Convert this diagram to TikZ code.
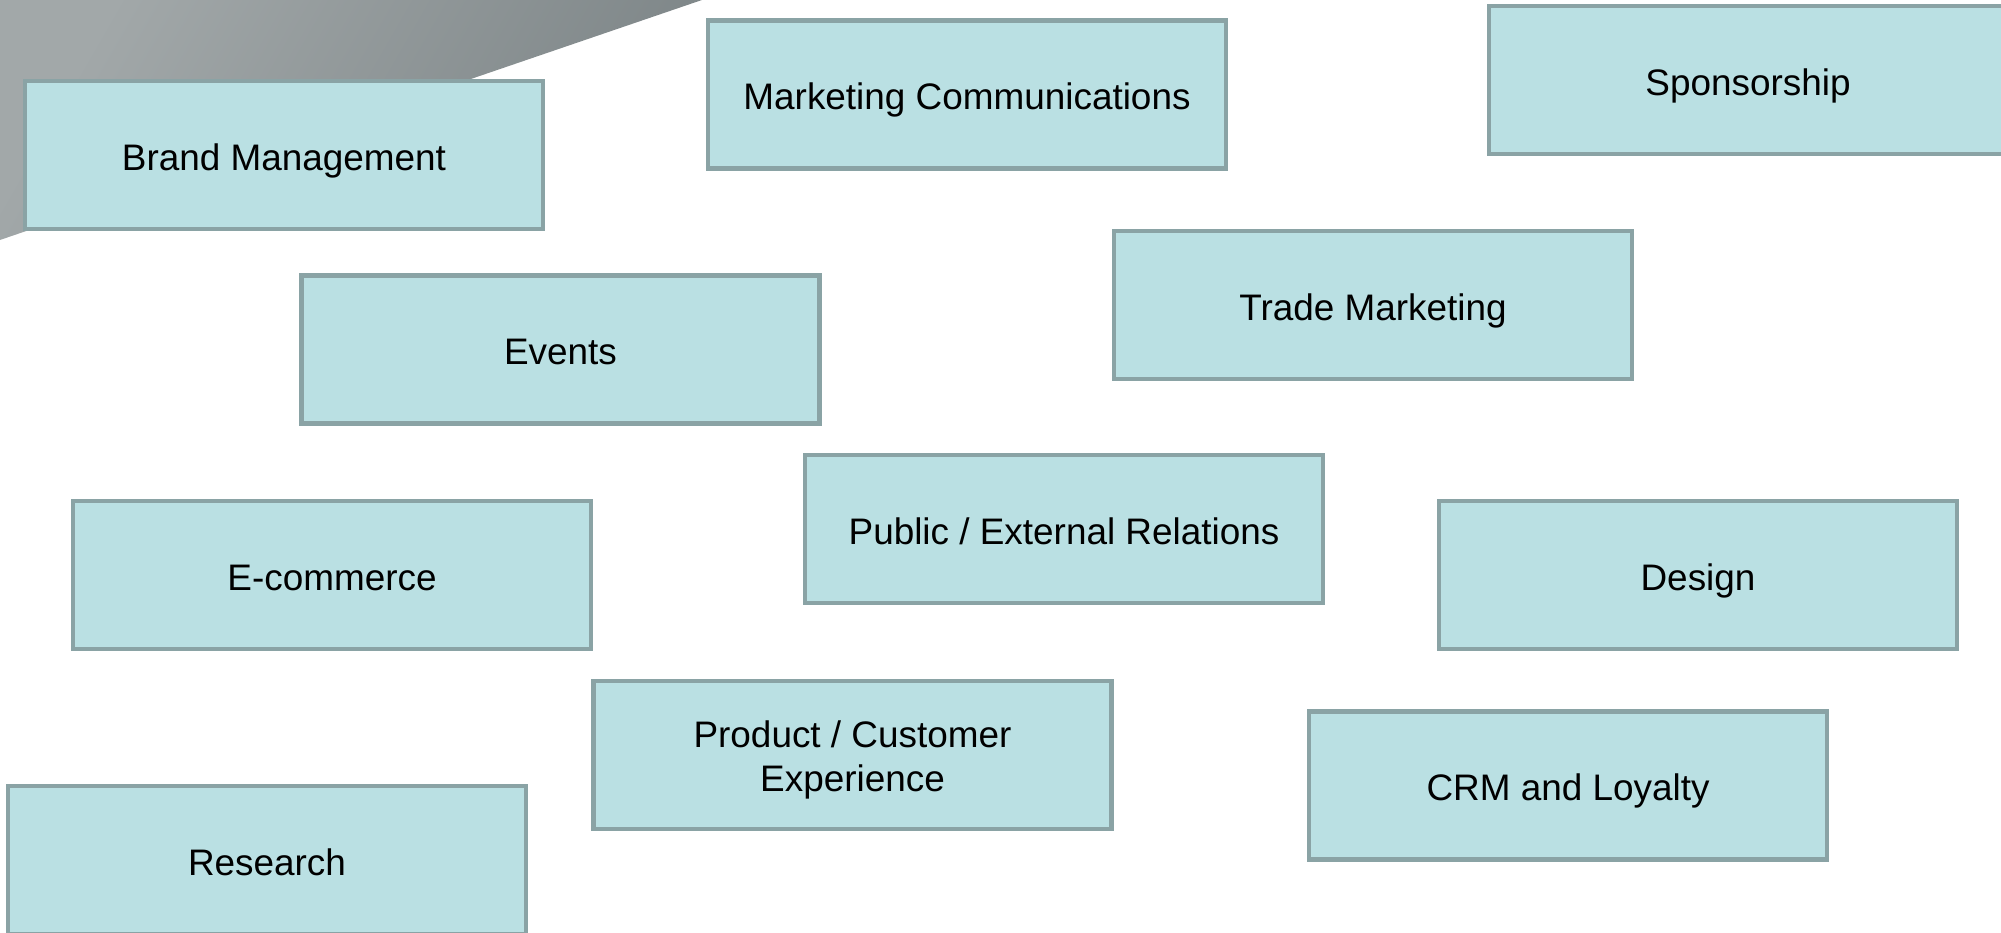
\documentclass[tikz,border=0pt]{standalone}
\usepackage{fontspec}
\setmainfont{Liberation Sans}
\definecolor{boxfill}{HTML}{BAE0E3}
\definecolor{boxline}{HTML}{8AA3A5}
\definecolor{greylight}{HTML}{A2A8A9}
\definecolor{greydark}{HTML}{7E8688}
\begin{document}
\begin{tikzpicture}[
    role/.style={draw=boxline, fill=boxfill, line width=1.2pt,
      minimum width=5.18cm, minimum height=1.48cm, align=center,
      text height=10.8pt, text depth=2.2pt,
      font=\fontsize{10.5}{12.5}\selectfont}]
  \clip (0,0) rectangle (20.01,9.33);
  \useasboundingbox (0,0) rectangle (20.01,9.33);

  % grey banner in the corner
  \shade[left color=greylight, right color=greydark, shading angle=60] (0,9.33)--(7.02,9.33)--(0,6.93)--cycle;

  \node [role] (brand) at (2.84,7.78) {Brand Management};
  \node [role] (marcom) at (9.67,8.385) {Marketing Communications};
  \node [role] (sponsor) at (17.48,8.53) {Sponsorship};
  \node [role] (events) at (5.605,5.835) {Events};
  \node [role] (trade) at (13.73,6.28) {Trade Marketing};
  \node [role] (public) at (10.64,4.04) {Public / External Relations};
  \node [role] (ecom) at (3.32,3.58) {E-commerce};
  \node [role] (design) at (16.98,3.58) {Design};
  \node [role, text height=, text depth=] (product) at (8.525,1.78) {\rule{0pt}{10.5pt}Product / Customer\\Experience};
  \node [role] (crm) at (15.68,1.475) {CRM and Loyalty};
  \node [role] (research) at (2.67,0.73) {Research};
\end{tikzpicture}
\end{document}
